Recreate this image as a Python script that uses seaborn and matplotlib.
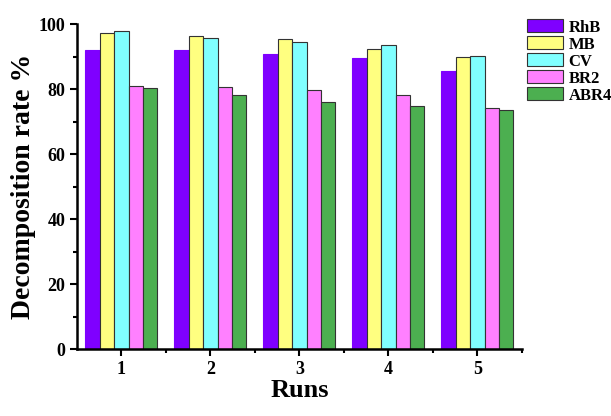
import pandas as pd
import matplotlib.pyplot as plt
import seaborn as sns
from matplotlib.ticker import FixedLocator

# Values
runs = ["1", "2", "3", "4", "5"]
dyes = ["RhB", "MB", "CV", "BR2", "ABR4"]
rhb = [92.0, 92.0, 90.8, 89.6, 85.5]
mb = [97.4, 96.4, 95.3, 92.2, 90.0]
cv = [97.9, 95.7, 94.6, 93.5, 90.3]
br2 = [80.9, 80.8, 79.6, 78.3, 74.2]
abr4 = [80.4, 78.2, 76.0, 74.9, 73.6]
colors = ["#7f00ff", "#ffff80", "#80ffff", "#ff80ff", "#4caf50"]

rows = []
for dye, vals in zip(dyes, [rhb, mb, cv, br2, abr4]):
    for r, v in zip(runs, vals):
        rows.append({"Runs": r, "dye": dye, "rate": v})
df = pd.DataFrame(rows)

sns.set_style("ticks")
plt.rcParams["font.family"] = ["Liberation Serif", "DejaVu Serif"]
plt.rcParams["font.weight"] = "bold"
plt.rcParams["text.color"] = "black"
plt.rcParams["axes.labelcolor"] = "black"
plt.rcParams["axes.edgecolor"] = "black"
plt.rcParams["xtick.color"] = "black"
plt.rcParams["ytick.color"] = "black"

fig = plt.figure(figsize=(6.11, 4.16), dpi=100)
ax = fig.add_axes([0.126, 0.161, 0.728, 0.781])

sns.barplot(data=df, x="Runs", y="rate", hue="dye", order=runs, hue_order=dyes,
            palette=colors, width=0.81, edgecolor="#333333", linewidth=0.8,
            saturation=1, ax=ax)
# purple bars have no visible outline
for bar in ax.containers[0]:
    bar.set_edgecolor("#7f00ff")

ax.set_xlim(-0.5, 4.5)
ax.set_ylim(0, 100)
ax.set_yticks([0, 20, 40, 60, 80, 100])
ax.yaxis.set_minor_locator(FixedLocator([10, 30, 50, 70, 90]))
ax.xaxis.set_minor_locator(FixedLocator([0.5, 1.5, 2.5, 3.5, 4.5]))
ax.tick_params(which="major", length=5, width=1.5, direction="out", labelsize=13)
ax.tick_params(which="minor", length=3, width=1.5, direction="out")
for lbl in ax.get_xticklabels() + ax.get_yticklabels():
    lbl.set_fontweight("bold")

sns.despine(ax=ax)
for s in ["left", "bottom"]:
    ax.spines[s].set_linewidth(1.8)

ax.set_xlabel("Runs", fontsize=19, fontweight="bold", labelpad=1)
ax.set_ylabel("Decomposition rate %", fontsize=20, fontweight="bold", labelpad=2)

leg = ax.legend(loc="upper left", bbox_to_anchor=(1.0, 1.03), frameon=False,
                prop={"weight": "bold", "size": 12}, handlelength=2.2,
                handleheight=0.8, labelspacing=0.05, handletextpad=0.3,
                borderaxespad=0.0, borderpad=0.3)

fig.savefig("out.png", dpi=100)
plt.close()
